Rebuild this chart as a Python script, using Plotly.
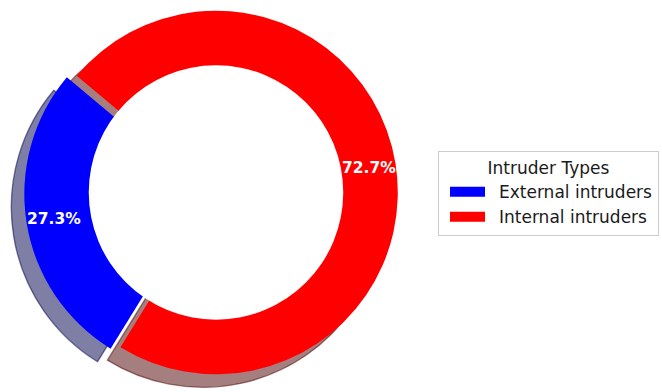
import math
import plotly.graph_objects as go

# Share of intruders by type
labels = ["External intruders", "Internal intruders"]
shares = [27.3, 72.7]
colors = ["#0000ff", "#ff0000"]
legend_title = "Intruder Types"

# Canvas and donut geometry (pixels)
W, H = 662, 392
R = 181.8            # outer radius
CX, CY = 216.0, 192.5  # centre, measured from the top-left corner
PULL = 0.055         # explode for the first slice, as a fraction of R
HOLE = 0.70          # hole radius as a fraction of R
START = 140.0        # first slice starts here (deg, counter-clockwise from 3 o'clock)
PCT_DIST = 0.85      # radius of the percentage labels, fraction of R
SHADOW_DX, SHADOW_DY = -13.0, 13.0
FONT = "DejaVu Sans"

pulls = [PULL] + [0.0] * (len(shares) - 1)
total = sum(shares)

# Mid-angle of every slice (deg)
mids = []
acc = START
for v in shares:
    span = 360.0 * v / total
    mids.append(acc + span / 2.0)
    acc += span


def clamp(v):
    return min(1.0, max(0.0, v))


def box(cx, cy, half):
    """Pie domain whose square box is centred at (cx, cy) px with half-size `half` px."""
    return dict(
        x=[clamp((cx - half) / W), clamp((cx + half) / W)],
        y=[clamp(1 - (cy + half) / H), clamp(1 - (cy - half) / H)],
    )


def shadow_rgba(hex_color, k=0.3, a=0.5):
    r, g, b = (int(hex_color[i:i + 2], 16) for i in (1, 3, 5))
    return f"rgba({int(r * k)},{int(g * k)},{int(b * k)},{a})"


# With direction="counterclockwise" plotly lays the first slice clockwise of
# `rotation` (degrees clockwise from 12 o'clock), so anchor on its far edge.
rotation = 90.0 - START - 360.0 * shares[0] / total
fig = go.Figure()

# Drop shadows: one pie per slice, shifted down-left (and along the explode direction)
for i, (c, p, m) in enumerate(zip(colors, pulls, mids)):
    sx = CX + SHADOW_DX + p * R * math.cos(math.radians(m))
    sy = CY + SHADOW_DY - p * R * math.sin(math.radians(m))
    fills = ["rgba(0,0,0,0)"] * len(shares)
    fills[i] = shadow_rgba(c)
    fig.add_trace(go.Pie(
        labels=labels, values=shares, sort=False, direction="counterclockwise",
        rotation=rotation, domain=box(sx, sy, R),
        marker=dict(colors=fills, line=dict(color=fills, width=1.4)),
        textinfo="none", hoverinfo="skip", showlegend=False,
    ))

# Main wedges
main_half = R * (1 + PULL)
fig.add_trace(go.Pie(
    labels=labels, values=shares, sort=False, direction="counterclockwise",
    rotation=rotation, pull=pulls, domain=box(CX, CY, main_half),
    marker=dict(colors=colors, line=dict(width=0)),
    textinfo="none", hoverinfo="label+percent", showlegend=False,
))

# White centre disc turning the pie into a ring
fig.add_trace(go.Pie(
    labels=[" "], values=[1], sort=False, domain=box(CX, CY, HOLE * R),
    marker=dict(colors=["#ffffff"], line=dict(width=0)),
    textinfo="none", hoverinfo="skip", showlegend=False,
))

# Percentage labels on hidden axes in units of the outer radius
lab_x = [(PCT_DIST + p) * math.cos(math.radians(m)) for p, m in zip(pulls, mids)]
lab_y = [(PCT_DIST + p) * math.sin(math.radians(m)) for p, m in zip(pulls, mids)]
lab_text = [f"{v / total:.1%}" for v in shares]

fig.add_trace(go.Scatter(
    x=lab_x, y=lab_y, mode="markers", marker=dict(opacity=0),
    hoverinfo="skip", showlegend=False,
))
for x, y, t in zip(lab_x, lab_y, lab_text):
    fig.add_annotation(
        x=x, y=y, xref="x", yref="y", text=t, showarrow=False,
        xanchor="center", yanchor="middle",
        font=dict(family=FONT, size=15.5, color="white", weight="bold"),
    )

# Legend keys: wide colour patches (a single dash inset from both ends of the key)
for lab, c in zip(labels, colors):
    fig.add_trace(go.Scatter(
        x=[None], y=[None], mode="lines", name=lab,
        line=dict(color=c, width=10, dash="0px,6px,35px,40px"),
        hoverinfo="skip", showlegend=True,
    ))

main_dom = box(CX, CY, main_half)
span_units = 1 + PULL
fig.update_layout(
    width=W, height=H,
    margin=dict(l=0, r=0, t=0, b=0),
    paper_bgcolor="white", plot_bgcolor="rgba(0,0,0,0)",
    font=dict(family=FONT, color="#1a1a1a"),
    hovermode=False,
    xaxis=dict(domain=main_dom["x"], range=[-span_units, span_units], visible=False, fixedrange=True),
    yaxis=dict(domain=main_dom["y"], range=[-span_units, span_units], visible=False, fixedrange=True),
    legend=dict(
        title=dict(text=legend_title, side="top center", font=dict(size=17, family=FONT)),
        font=dict(size=17, family=FONT),
        x=438 / W, y=1 - 151 / H, xanchor="left", yanchor="top",
        bgcolor="white", bordercolor="#cccccc", borderwidth=1,
        itemwidth=50,
    ),
)

fig.write_html("out.html")
